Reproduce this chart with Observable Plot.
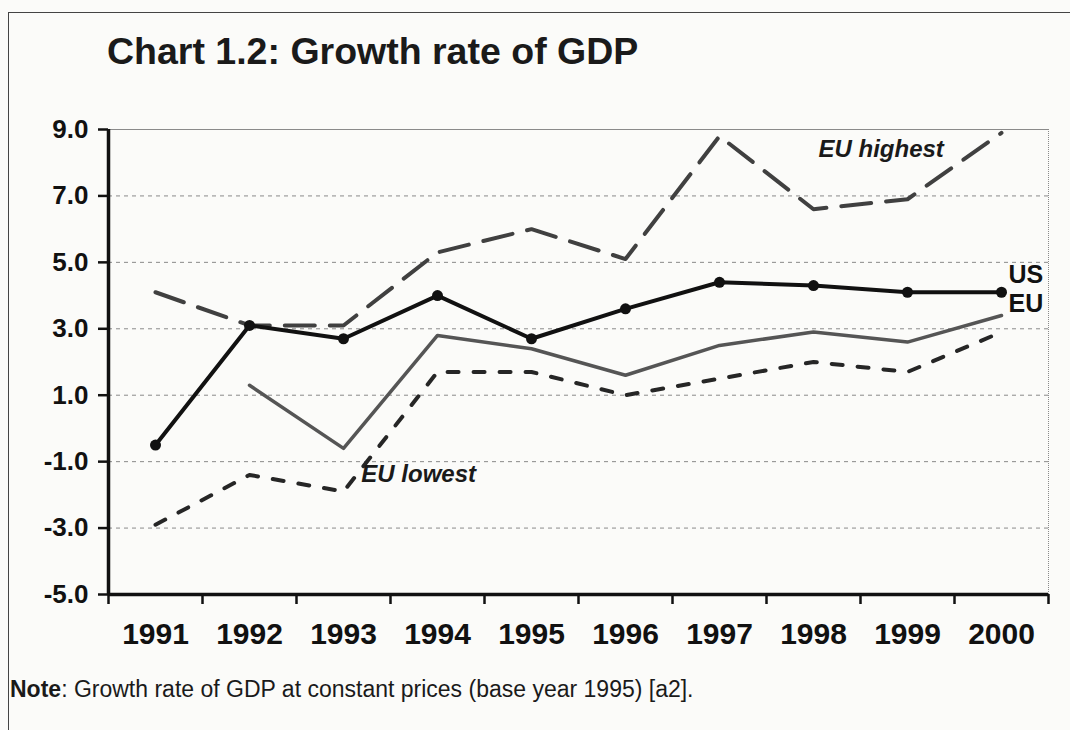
<!DOCTYPE html>
<html><head><meta charset="utf-8">
<script src="https://cdn.jsdelivr.net/npm/d3@7"></script>
<script src="https://cdn.jsdelivr.net/npm/@observablehq/plot@0.6"></script>
<style>
html,body{margin:0;padding:0;background:#fbfbf9;}
#frame{position:absolute;left:8px;top:12px;width:1062px;height:718px;border-top:1.5px solid #444;border-left:1.5px solid #444;box-sizing:border-box;}
#title{position:absolute;left:107px;top:33px;font:bold 37.5px "Liberation Sans",Arial,sans-serif;line-height:1;color:#1a1a1a;white-space:nowrap;}
#chart{position:absolute;left:0;top:100px;}
#note{position:absolute;left:10px;top:678px;font:23px "Liberation Sans",Arial,sans-serif;line-height:1;color:#1a1a1a;white-space:nowrap;}
</style></head><body>
<div id="frame"></div>
<div id="title">Chart 1.2: Growth rate of GDP</div>
<div id="chart"></div>
<div id="note"><b>Note</b>: Growth rate of GDP at constant prices (base year 1995) [a2].</div>
<script>
const years = [1991, 1992, 1993, 1994, 1995, 1996, 1997, 1998, 1999, 2000];
const us = [-0.5, 3.1, 2.7, 4.0, 2.7, 3.6, 4.4, 4.3, 4.1, 4.1];
const eu = [null, 1.3, -0.6, 2.8, 2.4, 1.6, 2.5, 2.9, 2.6, 3.4];
const euHighest = [4.1, 3.1, 3.1, 5.3, 6.0, 5.1, 8.8, 6.6, 6.9, 8.9];
const euLowest = [-2.9, -1.4, -1.9, 1.7, 1.7, 1.0, 1.5, 2.0, 1.7, 2.9];
const yTicks = [-5, -3, -1, 1, 3, 5, 7, 9];
const gridTicks = [-3, -1, 1, 3, 5, 7];
const annotations = [
  {year: 1998.72, value: 8.4, text: "EU highest"},
  {year: 1993.80, value: -1.39, text: "EU lowest"}
];

const yearBounds = [...years.map(y => y - 0.5), years[years.length - 1] + 0.5];
const series = (vals, name) => years.map((year, i) => ({year, value: vals[i], name})).filter(d => d.value != null);
const usData = series(us, "US");
const euData = series(eu, "EU");
const hiData = series(euHighest, "EU highest");
const loData = series(euLowest, "EU lowest");

const FONT = '"Liberation Sans", Arial, sans-serif';

const chart = Plot.plot({
  width: 1070,
  height: 560,
  marginLeft: 108,
  marginRight: 22,
  marginTop: 29,
  marginBottom: 66,
  style: {fontFamily: FONT, background: "transparent", color: "#1a1a1a"},
  x: {type: "linear", domain: [yearBounds[0], yearBounds[yearBounds.length - 1]]},
  y: {domain: [yTicks[0], yTicks[yTicks.length - 1]]},
  marks: [
    Plot.ruleY(gridTicks, {stroke: "#8a8a8a", strokeWidth: 1, strokeDasharray: "4,4"}),
    Plot.ruleY([yTicks[yTicks.length - 1]], {stroke: "#8a8a8a", strokeWidth: 1}),
    Plot.ruleX([yearBounds[yearBounds.length - 1]], {stroke: "#8a8a8a", strokeWidth: 1, strokeDasharray: "1,1"}),
    Plot.lineY(hiData, {x: "year", y: "value", stroke: "#404040", strokeWidth: 4, strokeDasharray: "30,15"}),
    Plot.lineY(loData, {x: "year", y: "value", stroke: "#262626", strokeWidth: 4, strokeDasharray: "11,15"}),
    Plot.lineY(euData, {x: "year", y: "value", stroke: "#555", strokeWidth: 3.5}),
    Plot.lineY(usData, {x: "year", y: "value", stroke: "#111", strokeWidth: 4}),
    Plot.dot(usData, {x: "year", y: "value", r: 5.5, fill: "#111"}),
    Plot.text(usData, Plot.selectLast({x: "year", y: "value", text: "name", dx: 7, dy: -17, textAnchor: "start", fontSize: 25, fontWeight: "bold", fill: "#111"})),
    Plot.text(euData, Plot.selectLast({x: "year", y: "value", text: "name", dx: 7, dy: -12, textAnchor: "start", fontSize: 25, fontWeight: "bold", fill: "#111"})),
    Plot.text(annotations, {x: "year", y: "value", text: "text", fontSize: 24, fontWeight: "bold", fontStyle: "italic", fill: "#1a1a1a"}),
    Plot.axisY({ticks: yTicks, tickFormat: d => d.toFixed(1), tickSize: 10, tickPadding: 10, strokeWidth: 2.5, stroke: "#111", fontSize: 26, fontWeight: "bold", fill: "#111", label: null}),
    Plot.axisX({ticks: yearBounds, tickFormat: () => "", tickSize: 10, strokeWidth: 2.5, stroke: "#111", label: null}),
    Plot.axisX({ticks: years, tickSize: 0, tickPadding: 28, tickFormat: d => String(d), fontSize: 30, fontWeight: "bold", fill: "#111", label: null}),
    Plot.ruleX([yearBounds[0]], {stroke: "#111", strokeWidth: 3.5}),
    Plot.ruleY([yTicks[0]], {stroke: "#111", strokeWidth: 3.5})
  ]
});
document.getElementById("chart").appendChild(chart);
</script>
</body></html>
